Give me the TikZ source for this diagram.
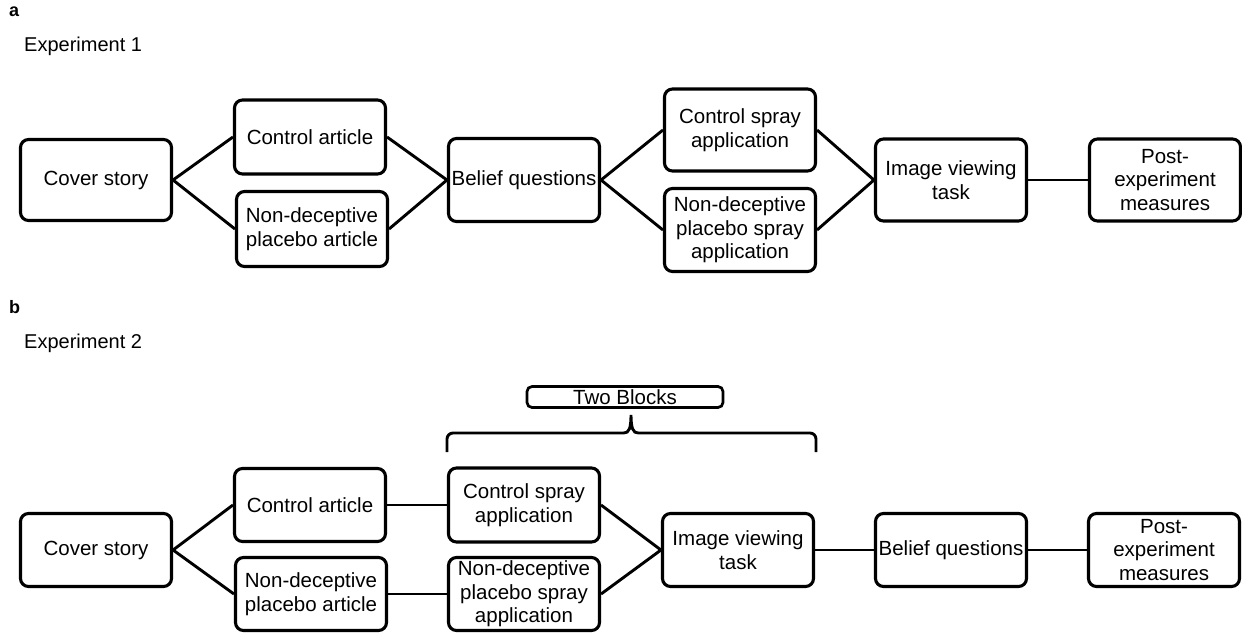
\documentclass[tikz,border=0pt]{standalone}
\usepackage{fontspec}
\setmainfont{Liberation Sans}
\usepackage{tikz}
\usetikzlibrary{positioning}
\tikzstyle{stage} = [rectangle,
rounded corners=8pt,
minimum width=151pt,
text centered,
align=center,
inner sep=1pt,
draw=black,
line width=3.1pt,
font=\fontsize{20.5}{23.5}\selectfont]
\tikzstyle{link} = [line width=2.9pt]
\tikzstyle{label} = [inner sep=0pt, anchor=base west]

\begin{document}
\begin{tikzpicture}[x=1pt, y=-1pt]
  \useasboundingbox (0,0) rectangle (1242,634);

  % experiment 1
  \node (capa) [label, font=\fontsize{18}{20}\selectfont\bfseries] at (9,17) {a};
  \node (expa) [label, font=\fontsize{20}{22}\selectfont] at (24,52) {Experiment 1};

  \node (coverA) [stage, minimum height=81pt] at (96,180) {Cover story};
  \node (ctrlartA) [stage, minimum height=74pt] at (310,137) {Control article};
  \node (ndpartA) [stage, minimum height=75pt] at (312,229) {Non-deceptive\\placebo article};
  \node (beliefA) [stage, minimum height=83pt] at (524,180) {Belief questions};
  \node (ctrlsprA) [stage, minimum height=82pt] at (740,130) {Control spray\\application};
  \node (ndpsprA) [stage, minimum height=83pt] at (740,230) {Non-deceptive\\placebo spray\\application};
  \node (imageA) [stage, minimum height=82pt] at (951,180) {Image viewing\\task};
  \node (postA) [stage, minimum height=82pt] at (1165,180) {Post-\\experiment\\measures};

  \draw [link] (coverA.east) -- (ctrlartA.west);
  \draw [link] (coverA.east) -- (ndpartA.west);
  \draw [link] (ctrlartA.east) -- (beliefA.west);
  \draw [link] (ndpartA.east) -- (beliefA.west);
  \draw [link] (beliefA.east) -- (ctrlsprA.west);
  \draw [link] (beliefA.east) -- (ndpsprA.west);
  \draw [link] (ctrlsprA.east) -- (imageA.west);
  \draw [link] (ndpsprA.east) -- (imageA.west);
  \draw [link] (imageA) -- (postA);

  % experiment 2
  \node (capb) [label, font=\fontsize{18}{20}\selectfont\bfseries] at (9,313) {b};
  \node (expb) [label, font=\fontsize{20}{22}\selectfont] at (24,348) {Experiment 2};

  \node (blocks) [stage, minimum width=196pt, minimum height=21pt, inner sep=0pt,
    line width=2.7pt, rounded corners=5pt] at (625,397) {Two Blocks};

  \node (coverB) [stage, minimum height=73pt] at (96,550) {Cover story};
  \node (ctrlartB) [stage, minimum height=73pt] at (310,505) {Control article};
  \node (ndpartB) [stage, minimum height=73pt] at (311,594) {Non-deceptive\\placebo article};
  \node (ctrlsprB) [stage, minimum height=74pt] at (524,505) {Control spray\\application};
  \node (ndpsprB) [stage, minimum height=73pt] at (524,594) {Non-deceptive\\placebo spray\\application};
  \node (imageB) [stage, minimum height=73pt] at (738,550) {Image viewing\\task};
  \node (beliefB) [stage, minimum height=73pt] at (951,550) {Belief questions};
  \node (postB) [stage, minimum height=73pt] at (1164,550) {Post-\\experiment\\measures};

  \draw [link] (coverB.east) -- (ctrlartB.west);
  \draw [link] (coverB.east) -- (ndpartB.west);
  \draw [link] (ctrlartB) -- (ctrlsprB);
  \draw [link] (ndpartB) -- (ndpsprB);
  \draw [link] (ctrlsprB.east) -- (imageB.west);
  \draw [link] (ndpsprB.east) -- (imageB.west);
  \draw [link] (imageB) -- (beliefB);
  \draw [link] (beliefB) -- (postB);

  % bracket under the blocks label
  \coordinate (braceL) at (447,452);
  \coordinate (braceR) at (816,452);
  \coordinate (braceT) at (631,415);
  \draw [link, rounded corners=6pt] (braceL) -- (447,433) -- (624,433);
  \draw [link, rounded corners=6pt] (braceR) -- (816,433) -- (638,433);
  \draw [link] (624,433) .. controls (629,433) and (631,428) .. (braceT)
    .. controls (631,428) and (633,433) .. (638,433);

\end{tikzpicture}
\end{document}
